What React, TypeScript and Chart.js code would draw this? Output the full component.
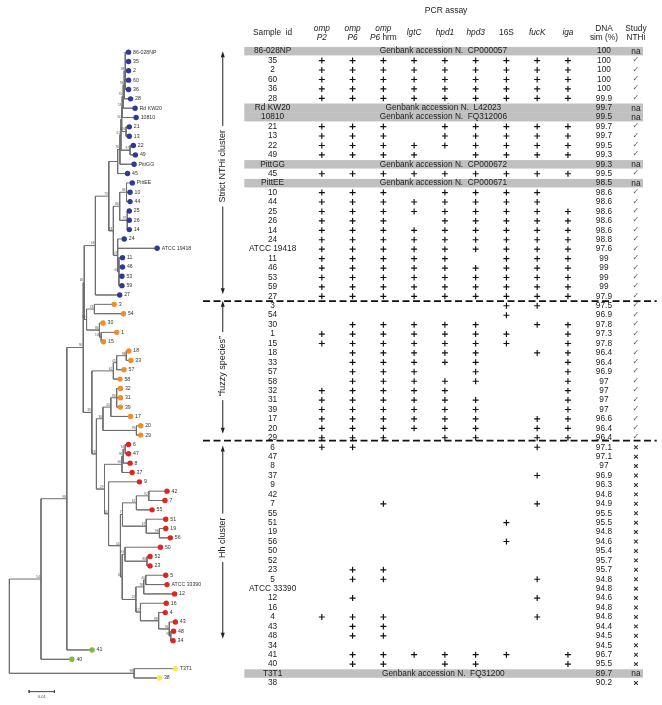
import React, { useEffect, useRef } from "react";
import { Chart, registerables } from "chart.js";

Chart.register(...registerables);

// ---------------- DATA ----------------
const sampleIds = [
  "86-028NP", "35", "2", "60", "36", "28", "Rd KW20", "10810", "21", "13",
  "22", "49", "PittGG", "45", "PittEE", "10", "44", "25", "26", "14",
  "24", "ATCC 19418", "11", "46", "53", "59", "27", "3", "54", "30",
  "1", "15", "18", "33", "57", "58", "32", "31", "39", "17",
  "20", "29", "6", "47", "8", "37", "9", "42", "7", "55",
  "51", "19", "56", "50", "52", "23", "5", "ATCC 33390", "12", "16",
  "4", "43", "48", "34", "41", "40", "T3T1", "38",
];

const geneHeaders = ["omp P2", "omp P6", "omp P6 hrm", "lgtC", "hpd1", "hpd3", "16S", "fucK", "iga"];

// PCR profile per sample (order of geneHeaders), "" = Genbank genome
const pcrProfile = [
  "", "111111111", "111111111", "111111111", "111111111", "111111111", "", "", "111011111", "111011111",
  "111111111", "111101111", "", "111111111", "", "111011110", "111111110", "111111111", "111011111", "111111111",
  "111111111", "111111111", "111110111", "111111111", "111111111", "111111111", "111111111", "000000110", "000000100", "011111011",
  "111111101", "111111101", "011111011", "011111001", "011101001", "011111001", "111110001", "111111001", "111111001", "111111011",
  "111111011", "111011011", "110000010", "000000000", "000000000", "000000010", "000000000", "000000000", "001000010", "000000000",
  "000000100", "000000000", "000000100", "000000000", "000000000", "011000000", "011000010", "000000000", "010000010", "000000000",
  "111000010", "011000000", "011000000", "000000000", "011111101", "011011001", "", "000000000",
];

const genbankRows = [0, 6, 7, 12, 14, 66];
const genbankAcc = ["CP000057", "L42023", "FQ312006", "CP000672", "CP000671", "FQ31200"];

const dnaSim = [
  100, 100, 100, 100, 100, 99.9, 99.7, 99.5, 99.7, 99.7,
  99.5, 99.3, 99.3, 99.5, 98.5, 98.6, 98.6, 98.6, 98.6, 98.6,
  98.8, 97.6, 99, 99, 99, 99, 97.9, 97.5, 96.9, 97.8,
  97.3, 97.8, 96.4, 96.4, 96.9, 97, 97, 97, 97, 96.6,
  96.4, 96.4, 97.1, 97.1, 97, 96.9, 96.3, 94.8, 94.9, 95.5,
  95.5, 94.8, 94.6, 95.4, 95.7, 95.7, 94.8, 94.8, 94.6, 94.8,
  94.8, 94.4, 94.5, 94.5, 96.7, 95.5, 89.7, 90.2,
];

// a = na, y = NTHi (check), x = not NTHi
const studyNTHi = ("ayyyyyaayyyyaya" + "yyyyyyyyyyyyyyyyyyyyyyyyyyy" + "xxxxxxxxxxxxxxxxxxxxxxxx" + "ax").split("");

// tree: tip distances from root (substitutions/site), tips in sample order
const tipDist = [
  0.0471, 0.0471, 0.0471, 0.0471, 0.0471, 0.0479, 0.0497, 0.0501, 0.0474, 0.0474,
  0.0490, 0.0498, 0.0493, 0.0467, 0.0486, 0.0477, 0.0477, 0.0474, 0.0474, 0.0474,
  0.0454, 0.0584, 0.0447, 0.0447, 0.0445, 0.0445, 0.0436, 0.0414, 0.0451, 0.0370,
  0.0424, 0.0372, 0.0472, 0.0480, 0.0453, 0.0437, 0.0439, 0.0439, 0.0439, 0.0479,
  0.0519, 0.0519, 0.0471, 0.0471, 0.0477, 0.0485, 0.0514, 0.0623, 0.0615, 0.0564,
  0.0618, 0.0618, 0.0636, 0.0597, 0.0556, 0.0556, 0.0618, 0.0623, 0.0653, 0.0620,
  0.0616, 0.0656, 0.0649, 0.0647, 0.0327, 0.0247, 0.0656, 0.0593,
];

const cladeFirstTip = [0, 27, 42, 64, 66];
const cladeColors = ["#2e3a96", "#f28c28", "#e2231f", "#7cbb42", "#f3ea4c"];

type TNode = { id: string; d: number; c: (number | string)[]; bs?: number };
const treeNodes: TNode[] = [
  { id: "U8", d: 0.0458, c: [0, 1, 2, 3, 4], bs: 98 },
  { id: "U7", d: 0.0454, c: ["U8", 5], bs: 94 },
  { id: "U6", d: 0.0450, c: ["U7", 6], bs: 55 },
  { id: "U5", d: 0.0446, c: ["U6", 7], bs: 53 },
  { id: "N2113", d: 0.0461, c: [8, 9], bs: 100 },
  { id: "U4", d: 0.0444, c: ["U5", "N2113"], bs: 56 },
  { id: "N2249", d: 0.0477, c: [10, 11], bs: 97 },
  { id: "U3", d: 0.0441, c: ["U4", "N2249"], bs: 61 },
  { id: "U2", d: 0.0437, c: ["U3", 12], bs: 76 },
  { id: "U", d: 0.0428, c: ["U2", 13] },
  { id: "Npe", d: 0.0463, c: [14, 15, 16], bs: 86 },
  { id: "N25", d: 0.0466, c: [17, 18, 19], bs: 97 },
  { id: "La", d: 0.0436, c: ["Npe", "N25"], bs: 86 },
  { id: "N11", d: 0.0433, c: [22, 23, 24, 25], bs: 60 },
  { id: "Lb", d: 0.0428, c: [20, 21, "N11"], bs: 53 },
  { id: "L", d: 0.0411, c: ["La", "Lb"], bs: 43 },
  { id: "N105", d: 0.0393, c: ["U", "L"], bs: 73 },
  { id: "N91", d: 0.0340, c: ["N105", 26], bs: 48 },
  { id: "N354", d: 0.0336, c: [27, 28], bs: 74 },
  { id: "N115", d: 0.0363, c: [30, 31], bs: 100 },
  { id: "N30", d: 0.0356, c: [29, "N115"], bs: 86 },
  { id: "N82", d: 0.0305, c: ["N354", "N30"], bs: 95 },
  { id: "N80", d: 0.0296, c: ["N91", "N82"], bs: 66 },
  { id: "Na2", d: 0.0462, c: [32, 33], bs: 98 },
  { id: "Na1", d: 0.0424, c: ["Na2", 34], bs: 45 },
  { id: "Na", d: 0.0411, c: ["Na1", 35], bs: 61 },
  { id: "Ne", d: 0.0424, c: [36, 37, 38], bs: 86 },
  { id: "Nd", d: 0.0401, c: ["Ne", 39], bs: 45 },
  { id: "Nf", d: 0.0502, c: [40, 41], bs: 99 },
  { id: "Nc", d: 0.0370, c: ["Nd", "Nf"], bs: 36 },
  { id: "h1", d: 0.0458, c: [42, 43], bs: 94 },
  { id: "h2", d: 0.0450, c: ["h1", 44], bs: 96 },
  { id: "h3", d: 0.0445, c: ["h2", 45], bs: 96 },
  { id: "h10", d: 0.0551, c: [47, 48], bs: 92 },
  { id: "h9", d: 0.0502, c: ["h10", 49], bs: 61 },
  { id: "h12", d: 0.0593, c: [51, 52], bs: 98 },
  { id: "h11", d: 0.0541, c: [50, "h12"], bs: 67 },
  { id: "h7", d: 0.0447, c: ["h9", "h11"], bs: 7 },
  { id: "h14", d: 0.0544, c: [54, 55], bs: 86 },
  { id: "h13", d: 0.0457, c: [53, "h14"], bs: 93 },
  { id: "h20", d: 0.0539, c: [56, 57], bs: 40 },
  { id: "h21", d: 0.0531, c: ["h20", 58], bs: 78 },
  { id: "h16", d: 0.0638, c: [62, 63], bs: 98 },
  { id: "h17", d: 0.0632, c: [61, "h16"], bs: 96 },
  { id: "h18", d: 0.0590, c: [60, "h17"], bs: 88 },
  { id: "h19", d: 0.0518, c: [59, "h18"], bs: 17 },
  { id: "h22", d: 0.0500, c: ["h21", "h19"], bs: 13 },
  { id: "h8", d: 0.0446, c: ["h13", "h22"], bs: 10 },
  { id: "h6", d: 0.0439, c: ["h7", "h8"], bs: 54 },
  { id: "h5", d: 0.0392, c: [46, "h6"], bs: 44 },
  { id: "h4", d: 0.0376, c: ["h3", "h5"], bs: 29 },
  { id: "Nb", d: 0.0344, c: ["Nc", "h4"], bs: 28 },
  { id: "N88", d: 0.0326, c: ["Na", "Nb"], bs: 39 },
  { id: "N79", d: 0.0292, c: ["N80", "N88"], bs: 90 },
  { id: "N62", d: 0.0227, c: ["N79", 64], bs: 98 },
  { id: "N36", d: 0.0125, c: ["N62", 65], bs: 54 },
  { id: "NT", d: 0.0493, c: [66, 67], bs: 98 },
  { id: "root", d: 0, c: ["N36", "NT"] },
];

const scaleBarLength = 0.01;
const clusterNames = ["Strict NTHi cluster", "\u201Cfuzzy species\u201D", "Hh cluster"];

// ---------------- LAYOUT (positions in scale units) ----------------
const LAYOUT = {
  xc: { min: -9.294, max: 11.89 },
  yr: { min: -4.88, max: 68.79 },
  xt: { min: -0.001673, max: 0.25591 },
  yt: { min: -5.03, max: 69.34 },
  sampleCol: -0.6,
  geneCol0: 1,
  dnaCol: 10.17,
  studyCol: 11.21,
  bandFrom: -1.52,
  bandTo: 11.44,
  accCol: 4.95,
  titleCol: 5.04,
  titleRow: -4.25,
  head1Row: -2.37,
  head2Row: -1.46,
  headSingleRow: -1.92,
  dashFrom: -2.862,
  dashRows: [26.5, 41.3],
  arrowX: -2.22,
  arrows: [
    [0.0, 25.77, 12.2],
    [26.47, 40.57, 33.4],
    [41.83, 62.3, 51.6],
  ],
  scaleBarStart: 0.0078,
  scaleBarRow: 68.46,
};

const FONT = '"Liberation Sans", Arial, Helvetica, sans-serif';

// ---------------- TREE GEOMETRY ----------------
const nodeMap: Record<string, TNode> = {};
treeNodes.forEach((n) => (nodeMap[n.id] = n));
const yCache: Record<string, number> = {};
function yOf(ref: number | string): number {
  if (typeof ref === "number") return ref;
  if (yCache[ref] !== undefined) return yCache[ref];
  const n = nodeMap[ref];
  const v = (yOf(n.c[0]) + yOf(n.c[n.c.length - 1])) / 2;
  yCache[ref] = v;
  return v;
}
function dOf(ref: number | string): number {
  return typeof ref === "number" ? tipDist[ref] : nodeMap[ref].d;
}

function buildDatasets() {
  const ds: any[] = [];
  // tip dots per clade
  cladeFirstTip.forEach((first, k) => {
    const last = k + 1 < cladeFirstTip.length ? cladeFirstTip[k + 1] : tipDist.length;
    const pts = [];
    for (let i = first; i < last; i++) pts.push({ x: tipDist[i], y: i });
    ds.push({
      data: pts,
      xAxisID: "xt",
      yAxisID: "yt",
      pointRadius: 2.7,
      pointBackgroundColor: cladeColors[k],
      pointBorderWidth: 0,
      showLine: false,
    });
  });
  // plus signs
  const plus: any[] = [];
  pcrProfile.forEach((p, r) => {
    for (let g = 0; g < p.length; g++) if (p[g] === "1") plus.push({ x: LAYOUT.geneCol0 + g, y: r });
  });
  ds.push({
    data: plus,
    xAxisID: "xc",
    yAxisID: "yr",
    pointStyle: "cross",
    pointRadius: 3,
    pointBorderWidth: 1.15,
    pointBorderColor: "#111",
    showLine: false,
  });
  // crosses for non NTHi
  const cross: any[] = [];
  studyNTHi.forEach((s, r) => {
    if (s === "x") cross.push({ x: LAYOUT.studyCol, y: r });
  });
  ds.push({
    data: cross,
    xAxisID: "xc",
    yAxisID: "yr",
    pointStyle: "crossRot",
    pointRadius: 2.6,
    pointBorderWidth: 1.1,
    pointBorderColor: "#333",
    showLine: false,
  });
  // dashed separators
  LAYOUT.dashRows.forEach((r) => {
    ds.push({
      data: [
        { x: LAYOUT.dashFrom, y: r },
        { x: LAYOUT.xc.max, y: r },
      ],
      xAxisID: "xc",
      yAxisID: "yr",
      showLine: true,
      borderColor: "#111",
      borderWidth: 1.8,
      borderDash: [7, 3.5],
      pointRadius: 0,
    });
  });
  // tree branches
  treeNodes.forEach((n) => {
    const pts: any[] = [];
    n.c.forEach((ch, k) => {
      const cy = yOf(ch);
      const cd = dOf(ch);
      if (k > 0) pts.push({ x: n.d, y: cy });
      pts.push({ x: cd, y: cy });
      pts.push({ x: n.d, y: cy });
    });
    ds.push({
      data: pts,
      xAxisID: "xt",
      yAxisID: "yt",
      showLine: true,
      borderColor: "#6e6e6e",
      borderWidth: 1,
      pointRadius: 0,
    });
  });
  // scale bar
  const a = LAYOUT.scaleBarStart;
  const b = a + scaleBarLength;
  const yb = LAYOUT.scaleBarRow;
  ds.push({
    data: [
      { x: a, y: yb - 0.15 },
      { x: a, y: yb + 0.15 },
      { x: a, y: yb },
      { x: b, y: yb },
      { x: b, y: yb - 0.15 },
      { x: b, y: yb + 0.15 },
    ],
    xAxisID: "xt",
    yAxisID: "yt",
    showLine: true,
    borderColor: "#444",
    borderWidth: 1,
    pointRadius: 0,
  });
  return ds;
}

function drawSegs(ctx: CanvasRenderingContext2D, segs: [string, boolean][], cx: number, y: number, size: number) {
  let total = 0;
  const widths = segs.map(([t, it]) => {
    ctx.font = `${it ? "italic " : ""}${size}px ${FONT}`;
    const w = ctx.measureText(t).width;
    total += w;
    return w;
  });
  let x = cx - total / 2;
  ctx.textAlign = "left";
  segs.forEach(([t, it], i) => {
    ctx.font = `${it ? "italic " : ""}${size}px ${FONT}`;
    ctx.fillText(t, x, y);
    x += widths[i];
  });
}

const tablePlugin = {
  id: "tableAndLabels",
  beforeDatasetsDraw(chart: any) {
    const { ctx, scales } = chart;
    const xc = scales.xc;
    const yr = scales.yr;
    const rowH = Math.abs(yr.getPixelForValue(1) - yr.getPixelForValue(0));
    const x0 = xc.getPixelForValue(LAYOUT.bandFrom);
    const x1 = xc.getPixelForValue(LAYOUT.bandTo);
    ctx.save();
    ctx.fillStyle = "#c0c0c0";
    genbankRows.forEach((r) => {
      const yc = yr.getPixelForValue(r);
      const next = genbankRows.includes(r + 1);
      ctx.fillRect(x0, yc - rowH * 0.45, x1 - x0, next ? rowH : rowH * 0.9);
    });
    ctx.restore();
  },
  afterDatasetsDraw(chart: any) {
    const { ctx, scales } = chart;
    const xc = scales.xc;
    const yr = scales.yr;
    const xt = scales.xt;
    const yt = scales.yt;
    ctx.save();
    ctx.textBaseline = "middle";
    ctx.fillStyle = "#222";

    // title
    ctx.textAlign = "center";
    ctx.font = `8.5px ${FONT}`;
    ctx.fillText("PCR assay", xc.getPixelForValue(LAYOUT.titleCol), yr.getPixelForValue(LAYOUT.titleRow));

    // headers
    const HS = 8.3;
    const h1 = yr.getPixelForValue(LAYOUT.head1Row);
    const h2 = yr.getPixelForValue(LAYOUT.head2Row);
    const hs = yr.getPixelForValue(LAYOUT.headSingleRow);
    drawSegs(ctx, [["Sample  id", false]], xc.getPixelForValue(LAYOUT.sampleCol), hs, HS);
    geneHeaders.forEach((g, i) => {
      const cx = xc.getPixelForValue(LAYOUT.geneCol0 + i);
      if (g.startsWith("omp ")) {
        const rest = g.slice(4);
        drawSegs(ctx, [["omp", true]], cx, h1, HS);
        const parts = rest.split(" ");
        const segs: [string, boolean][] = [[parts[0], true]];
        if (parts[1]) segs.push([" " + parts[1], false]);
        drawSegs(ctx, segs, cx, h2, HS);
      } else {
        drawSegs(ctx, [[g, g !== "16S"]], cx, hs, HS);
      }
    });
    drawSegs(ctx, [["DNA", false]], xc.getPixelForValue(LAYOUT.dnaCol), h1, HS);
    drawSegs(ctx, [["sim (%)", false]], xc.getPixelForValue(LAYOUT.dnaCol), h2, HS);
    drawSegs(ctx, [["Study", false]], xc.getPixelForValue(LAYOUT.studyCol), h1, HS);
    drawSegs(ctx, [["NTHi", false]], xc.getPixelForValue(LAYOUT.studyCol), h2, HS);

    // rows
    ctx.textAlign = "center";
    sampleIds.forEach((s, r) => {
      const y = yr.getPixelForValue(r);
      ctx.fillStyle = "#222";
      ctx.font = `8.3px ${FONT}`;
      ctx.fillText(s, xc.getPixelForValue(LAYOUT.sampleCol), y);
      ctx.fillText(String(dnaSim[r]), xc.getPixelForValue(LAYOUT.dnaCol), y);
      const st = studyNTHi[r];
      if (st === "a") {
        ctx.fillText("na", xc.getPixelForValue(LAYOUT.studyCol), y + 0.5);
      } else if (st === "y") {
        ctx.fillStyle = "#555";
        ctx.font = `8px "DejaVu Sans", sans-serif`;
        ctx.fillText("\u2713", xc.getPixelForValue(LAYOUT.studyCol), y - 0.5);
      }
    });
    ctx.fillStyle = "#222";
    ctx.font = `8.3px ${FONT}`;
    genbankRows.forEach((r, i) => {
      ctx.fillText("Genbank accession N.  " + genbankAcc[i], xc.getPixelForValue(LAYOUT.accCol), yr.getPixelForValue(r));
    });

    // tree tip labels
    ctx.textAlign = "left";
    ctx.fillStyle = "#333";
    ctx.font = `5.2px ${FONT}`;
    sampleIds.forEach((s, i) => {
      ctx.fillText(s, xt.getPixelForValue(tipDist[i]) + 4.5, yt.getPixelForValue(i));
    });
    // bootstrap labels
    ctx.textAlign = "right";
    ctx.fillStyle = "#555";
    ctx.font = `3.2px ${FONT}`;
    treeNodes.forEach((n) => {
      if (n.bs === undefined) return;
      ctx.fillText(String(n.bs), xt.getPixelForValue(n.d) - 1, yt.getPixelForValue(yOf(n.id)) - 2);
    });
    // scale bar label
    ctx.textAlign = "center";
    ctx.fillStyle = "#444";
    ctx.font = `4px ${FONT}`;
    ctx.fillText(
      String(scaleBarLength),
      xt.getPixelForValue(LAYOUT.scaleBarStart + scaleBarLength / 2),
      yt.getPixelForValue(LAYOUT.scaleBarRow) + 5
    );

    // cluster arrows
    const ax = xc.getPixelForValue(LAYOUT.arrowX);
    ctx.strokeStyle = "#222";
    ctx.fillStyle = "#222";
    ctx.lineWidth = 1;
    LAYOUT.arrows.forEach(([top, bottom, mid], i) => {
      const ytp = yr.getPixelForValue(top);
      const ybt = yr.getPixelForValue(bottom);
      const ym = yr.getPixelForValue(mid);
      ctx.font = `9px ${FONT}`;
      const w = ctx.measureText(clusterNames[i]).width;
      ctx.beginPath();
      ctx.moveTo(ax, ytp + 4);
      ctx.lineTo(ax, ym - w / 2 - 4);
      ctx.moveTo(ax, ym + w / 2 + 4);
      ctx.lineTo(ax, ybt - 4);
      ctx.stroke();
      ctx.beginPath();
      ctx.moveTo(ax, ytp);
      ctx.lineTo(ax - 2, ytp + 6);
      ctx.lineTo(ax + 2, ytp + 6);
      ctx.closePath();
      ctx.fill();
      ctx.beginPath();
      ctx.moveTo(ax, ybt);
      ctx.lineTo(ax - 2, ybt - 6);
      ctx.lineTo(ax + 2, ybt - 6);
      ctx.closePath();
      ctx.fill();
      ctx.save();
      ctx.translate(ax - 0.5, ym);
      ctx.rotate(-Math.PI / 2);
      ctx.textAlign = "center";
      ctx.textBaseline = "middle";
      ctx.fillText(clusterNames[i], 0, 0);
      ctx.restore();
    });
    ctx.restore();
  },
};

export default function App() {
  const ref = useRef<HTMLCanvasElement>(null);
  useEffect(() => {
    document.body.style.margin = "0";
    const canvas = ref.current!;
    const hidden = (min: number, max: number, reverse = false) => ({
      type: "linear",
      display: false,
      min,
      max,
      reverse,
      grid: { display: false },
    });
    const chart = new Chart(canvas, {
      type: "scatter",
      data: { datasets: buildDatasets() },
      options: {
        responsive: false,
        animation: false,
        devicePixelRatio: 1,
        events: [],
        layout: { padding: 0 },
        plugins: { legend: { display: false }, tooltip: { enabled: false } },
        scales: {
          x: hidden(0, 1),
          y: hidden(0, 1),
          xc: { ...hidden(LAYOUT.xc.min, LAYOUT.xc.max), axis: "x" },
          yr: { ...hidden(LAYOUT.yr.min, LAYOUT.yr.max, true), axis: "y" },
          xt: { ...hidden(LAYOUT.xt.min, LAYOUT.xt.max), axis: "x" },
          yt: { ...hidden(LAYOUT.yt.min, LAYOUT.yt.max, true), axis: "y" },
        },
      } as any,
      plugins: [tablePlugin],
    } as any);
    return () => chart.destroy();
  }, []);
  return (
    <div style={{ width: 662, height: 705, background: "#fff" }}>
      <canvas ref={ref} width={662} height={705} style={{ display: "block" }} />
    </div>
  );
}
